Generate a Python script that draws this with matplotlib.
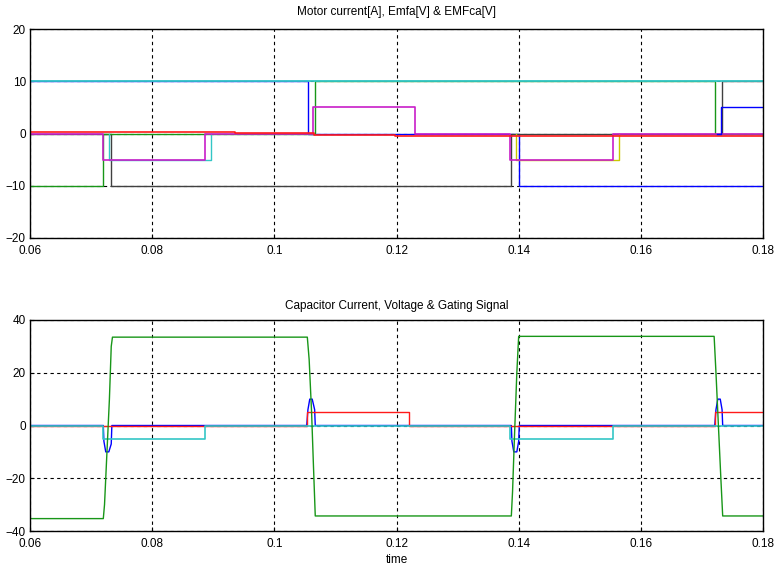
import numpy as np
import matplotlib
matplotlib.use('Agg')
import matplotlib.pyplot as plt

plt.rcParams['font.family'] = ['Liberation Sans', 'DejaVu Sans']
plt.rcParams['font.size'] = 8.5

# ---- top panel: motor currents and EMFs (step signals, values held after each time)
t_ia = [0.06, 0.1055, 0.1400, 0.18]
v_ia = [10, 0, -10, -10]
t_ib = [0.06, 0.0720, 0.1066, 0.1722, 0.18]
v_ib = [-10, 0, 10, 0, 0]
t_ic = [0.06, 0.0733, 0.1388, 0.1733, 0.18]
v_ic = [0, -10, 0, 10, 10]
t_top_cyan = [0.06, 0.18]
v_top_cyan = [10, 10]
t_emf_mag = [0.06, 0.0720, 0.0887, 0.1064, 0.1231, 0.1386, 0.1554, 0.18]
v_emf_mag = [0, -5, 0, 5, 0, -5, 0, 0]
t_emf_cyan = [0.0729, 0.0729, 0.0897, 0.0897]
v_emf_cyan = [0, -5, -5, 0]
t_emf_yel = [0.1396, 0.1396, 0.1564, 0.1564]
v_emf_yel = [0, -5, -5, 0]
t_emf_blue = [0.1725, 0.1731, 0.18]
v_emf_blue = [0, 5, 5]
t_top_red = [0.06, 0.0935, 0.1065, 0.1197, 0.18]
v_top_red = [0.3, 0.1, -0.2, -0.5, -0.5]

# ---- bottom panel: capacitor current, voltage and gating
t_vc = [0.06, 0.0720, 0.0722, 0.0726, 0.0730, 0.0733, 0.0735, 0.1054, 0.1057, 0.1061,
        0.1064, 0.1067, 0.1388, 0.1390, 0.1393, 0.1397, 0.1400, 0.1720, 0.1723, 0.1727,
        0.1731, 0.1734, 0.18]
v_vc = [-35.3, -35.3, -30, -10, 10, 30, 33.5, 33.5, 25, 5,
        -15, -34.3, -34.3, -25, -5, 20, 33.8, 33.8, 20, 0,
        -20, -34.3, -34.3]
t_ic_cap = [0.06, 0.0720, 0.0721, 0.0724, 0.0729, 0.0733, 0.0734,
            0.1053, 0.1055, 0.1058, 0.1062, 0.1066, 0.1067,
            0.1388, 0.1389, 0.1392, 0.1397, 0.1400, 0.1401,
            0.1721, 0.1723, 0.1726, 0.1730, 0.1733, 0.1734, 0.18]
v_ic_cap = [0, 0, -6, -10, -10, -7, 0,
            0, 6, 10, 10, 6, 0,
            0, -6, -10, -10, -6, 0,
            0, 6, 10, 10, 6, 0, 0]
t_gate_red = [0.06, 0.1054, 0.1221, 0.1721, 0.18]
v_gate_red = [0, 5, 0, 5, 5]
t_gate_cyan = [0.06, 0.0720, 0.0887, 0.1386, 0.1554, 0.18]
v_gate_cyan = [0, -5, 0, -5, 0, 0]

c_cyan = '#33c6c6'
c_mag = '#c81ec8'
c_green = '#189618'
c_blue = '#0000ff'
c_red = '#ff1a1a'
c_yel = '#c8c800'
c_blk = '#404040'
lw = 1.0

fig = plt.figure(figsize=(7.77, 5.68), dpi=100)
ax1 = fig.add_axes([30/777, 1-238/568, 733/777, 209/568])
ax2 = fig.add_axes([30/777, 1-531/568, 733/777, 211/568])

# currents first, EMF traces over them at the zero line
ax1.plot(t_ia, v_ia, drawstyle='steps-post', color=c_blue, lw=lw)
ax1.plot(t_ic, v_ic, drawstyle='steps-post', color=c_blk, lw=lw)
ax1.plot(t_ib, v_ib, drawstyle='steps-post', color=c_green, lw=lw)
ax1.plot(t_top_cyan, v_top_cyan, color=c_cyan, lw=1.3)
ax1.plot(t_emf_cyan, v_emf_cyan, color=c_cyan, lw=lw)
ax1.plot(t_emf_yel, v_emf_yel, color=c_yel, lw=lw)
ax1.plot(t_emf_mag, v_emf_mag, drawstyle='steps-post', color=c_mag, lw=1.2)
ax1.plot(t_top_red, v_top_red, drawstyle='steps-post', color=c_red, lw=1.2)
ax1.plot(t_emf_blue, v_emf_blue, drawstyle='steps-post', color=c_blue, lw=lw)
ax1.set_ylim(-20, 20)
ax1.set_yticks([-20, -10, 0, 10, 20])
ax1.set_title('Motor current[A], Emfa[V] & EMFca[V]', fontsize=8.5, pad=10)

ax2.plot(t_ic_cap, v_ic_cap, color=c_blue, lw=lw)
ax2.plot(t_gate_red, v_gate_red, drawstyle='steps-post', color=c_red, lw=lw)
ax2.plot(t_gate_cyan, v_gate_cyan, drawstyle='steps-post', color=c_cyan, lw=1.2)
ax2.plot(t_vc, v_vc, color=c_green, lw=lw)
ax2.set_ylim(-40, 40)
ax2.set_yticks([-40, -20, 0, 20, 40])
ax2.set_title('Capacitor Current, Voltage & Gating Signal', fontsize=8.5, pad=8)
ax2.set_xlabel('time', labelpad=3)

for ax in (ax1, ax2):
    ax.set_xlim(0.06, 0.18)
    ax.set_xticks([0.06, 0.08, 0.1, 0.12, 0.14, 0.16, 0.18])
    ax.set_xticklabels(['0.06', '0.08', '0.1', '0.12', '0.14', '0.16', '0.18'])
    ax.grid(True, color='black', linestyle=(0, (3, 3)), linewidth=0.8)
    ax.set_axisbelow(True)
    ax.tick_params(axis='x', direction='in', length=3, pad=5, labelsize=8.5)
    ax.tick_params(axis='y', direction='in', length=3, pad=3, labelsize=8.5)
    for s in ax.spines.values():
        s.set_linewidth(1.0)

fig.savefig('out.png', dpi=100)
